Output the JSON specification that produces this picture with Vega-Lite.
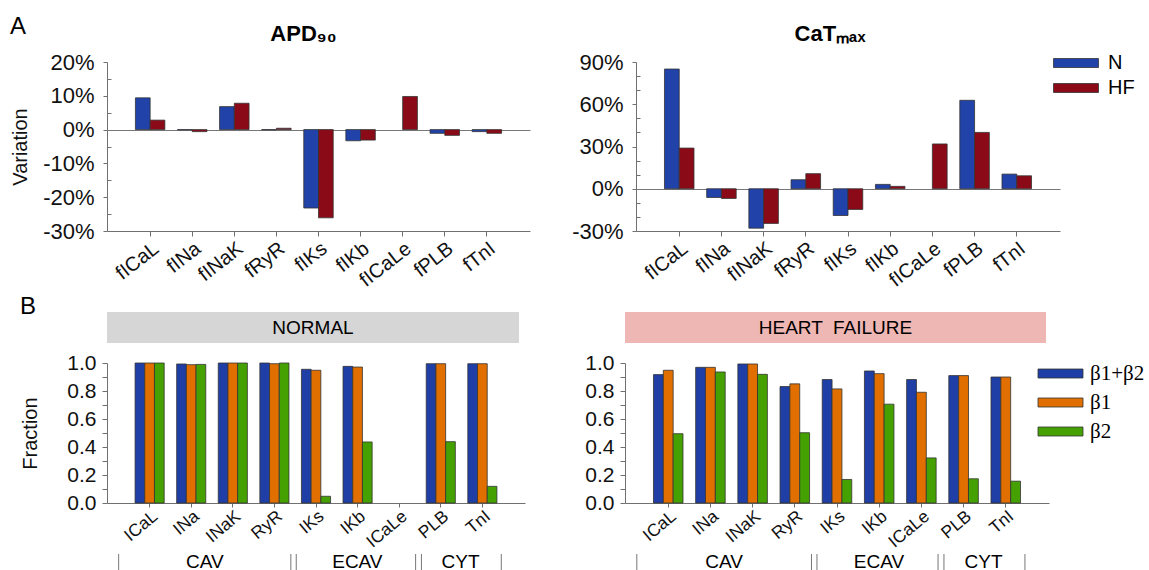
{
  "$schema": "https://vega.github.io/schema/vega-lite/v6.json",
  "padding": {"left": 10, "top": 15, "right": 0, "bottom": 0},
  "config": {
    "font": "Liberation Sans",
    "view": {"stroke": null},
    "axis": {"grid": false, "domainColor": "#707070", "tickColor": "#707070", "labelColor": "#111", "titleColor": "#111", "titleFontWeight": "normal", "labelOverlap": false, "labelFlush": false},
    "title": {"color": "#000"}
  },
  "datasets": {
    "apd": [
      {"p": "fICaL", "cond": "N", "v": 0.094}, {"p": "fICaL", "cond": "HF", "v": 0.028},
      {"p": "fINa", "cond": "N", "v": -0.001}, {"p": "fINa", "cond": "HF", "v": -0.006},
      {"p": "fINaK", "cond": "N", "v": 0.068}, {"p": "fINaK", "cond": "HF", "v": 0.078},
      {"p": "fRyR", "cond": "N", "v": -0.001}, {"p": "fRyR", "cond": "HF", "v": 0.004},
      {"p": "fIKs", "cond": "N", "v": -0.232}, {"p": "fIKs", "cond": "HF", "v": -0.261},
      {"p": "fIKb", "cond": "N", "v": -0.033}, {"p": "fIKb", "cond": "HF", "v": -0.031},
      {"p": "fICaLe", "cond": "HF", "v": 0.098},
      {"p": "fPLB", "cond": "N", "v": -0.011}, {"p": "fPLB", "cond": "HF", "v": -0.017},
      {"p": "fTnI", "cond": "N", "v": -0.006}, {"p": "fTnI", "cond": "HF", "v": -0.011}
    ],
    "cat": [
      {"p": "fICaL", "cond": "N", "v": 0.85}, {"p": "fICaL", "cond": "HF", "v": 0.289},
      {"p": "fINa", "cond": "N", "v": -0.062}, {"p": "fINa", "cond": "HF", "v": -0.069},
      {"p": "fINaK", "cond": "N", "v": -0.28}, {"p": "fINaK", "cond": "HF", "v": -0.246},
      {"p": "fRyR", "cond": "N", "v": 0.064}, {"p": "fRyR", "cond": "HF", "v": 0.107},
      {"p": "fIKs", "cond": "N", "v": -0.19}, {"p": "fIKs", "cond": "HF", "v": -0.147},
      {"p": "fIKb", "cond": "N", "v": 0.031}, {"p": "fIKb", "cond": "HF", "v": 0.017},
      {"p": "fICaLe", "cond": "HF", "v": 0.318},
      {"p": "fPLB", "cond": "N", "v": 0.628}, {"p": "fPLB", "cond": "HF", "v": 0.40},
      {"p": "fTnI", "cond": "N", "v": 0.104}, {"p": "fTnI", "cond": "HF", "v": 0.092}
    ],
    "frac": [
      {"s": "N", "ch": "ICaL", "b": "β1+β2", "v": 1.0}, {"s": "N", "ch": "ICaL", "b": "β1", "v": 1.0}, {"s": "N", "ch": "ICaL", "b": "β2", "v": 1.0},
      {"s": "N", "ch": "INa", "b": "β1+β2", "v": 0.993}, {"s": "N", "ch": "INa", "b": "β1", "v": 0.988}, {"s": "N", "ch": "INa", "b": "β2", "v": 0.99},
      {"s": "N", "ch": "INaK", "b": "β1+β2", "v": 1.0}, {"s": "N", "ch": "INaK", "b": "β1", "v": 1.0}, {"s": "N", "ch": "INaK", "b": "β2", "v": 1.0},
      {"s": "N", "ch": "RyR", "b": "β1+β2", "v": 1.0}, {"s": "N", "ch": "RyR", "b": "β1", "v": 0.995}, {"s": "N", "ch": "RyR", "b": "β2", "v": 1.0},
      {"s": "N", "ch": "IKs", "b": "β1+β2", "v": 0.955}, {"s": "N", "ch": "IKs", "b": "β1", "v": 0.948}, {"s": "N", "ch": "IKs", "b": "β2", "v": 0.048},
      {"s": "N", "ch": "IKb", "b": "β1+β2", "v": 0.976}, {"s": "N", "ch": "IKb", "b": "β1", "v": 0.971}, {"s": "N", "ch": "IKb", "b": "β2", "v": 0.436},
      {"s": "N", "ch": "PLB", "b": "β1+β2", "v": 0.995}, {"s": "N", "ch": "PLB", "b": "β1", "v": 0.995}, {"s": "N", "ch": "PLB", "b": "β2", "v": 0.438},
      {"s": "N", "ch": "TnI", "b": "β1+β2", "v": 0.995}, {"s": "N", "ch": "TnI", "b": "β1", "v": 0.995}, {"s": "N", "ch": "TnI", "b": "β2", "v": 0.119},
      {"s": "HF", "ch": "ICaL", "b": "β1+β2", "v": 0.917}, {"s": "HF", "ch": "ICaL", "b": "β1", "v": 0.948}, {"s": "HF", "ch": "ICaL", "b": "β2", "v": 0.495},
      {"s": "HF", "ch": "INa", "b": "β1+β2", "v": 0.969}, {"s": "HF", "ch": "INa", "b": "β1", "v": 0.969}, {"s": "HF", "ch": "INa", "b": "β2", "v": 0.936},
      {"s": "HF", "ch": "INaK", "b": "β1+β2", "v": 0.993}, {"s": "HF", "ch": "INaK", "b": "β1", "v": 0.993}, {"s": "HF", "ch": "INaK", "b": "β2", "v": 0.919},
      {"s": "HF", "ch": "RyR", "b": "β1+β2", "v": 0.832}, {"s": "HF", "ch": "RyR", "b": "β1", "v": 0.851}, {"s": "HF", "ch": "RyR", "b": "β2", "v": 0.502},
      {"s": "HF", "ch": "IKs", "b": "β1+β2", "v": 0.882}, {"s": "HF", "ch": "IKs", "b": "β1", "v": 0.815}, {"s": "HF", "ch": "IKs", "b": "β2", "v": 0.168},
      {"s": "HF", "ch": "IKb", "b": "β1+β2", "v": 0.943}, {"s": "HF", "ch": "IKb", "b": "β1", "v": 0.924}, {"s": "HF", "ch": "IKb", "b": "β2", "v": 0.706},
      {"s": "HF", "ch": "ICaLe", "b": "β1+β2", "v": 0.882}, {"s": "HF", "ch": "ICaLe", "b": "β1", "v": 0.791}, {"s": "HF", "ch": "ICaLe", "b": "β2", "v": 0.322},
      {"s": "HF", "ch": "PLB", "b": "β1+β2", "v": 0.91}, {"s": "HF", "ch": "PLB", "b": "β1", "v": 0.91}, {"s": "HF", "ch": "PLB", "b": "β2", "v": 0.173},
      {"s": "HF", "ch": "TnI", "b": "β1+β2", "v": 0.9}, {"s": "HF", "ch": "TnI", "b": "β1", "v": 0.9}, {"s": "HF", "ch": "TnI", "b": "β2", "v": 0.156}
    ],
    "headers": [
      {"s": "N", "label": "NORMAL"},
      {"s": "HF", "label": "HEART \u00a0FAILURE"}
    ],
    "groups": [
      {"grp": "CAV", "from": 0.28, "to": 4.42, "mid": 2.35},
      {"grp": "ECAV", "from": 4.55, "to": 7.42, "mid": 6.02},
      {"grp": "CYT", "from": 7.56, "to": 9.48, "mid": 8.5}
    ]
  },
  "resolve": {"scale": {"color": "independent", "xOffset": "independent"}, "legend": {"color": "independent"}},
  "spacing": 4,
  "vconcat": [
    {
      "title": {"text": "A", "anchor": "start", "fontSize": 24, "fontWeight": "normal", "offset": -16},
      "resolve": {"scale": {"color": "independent", "xOffset": "independent"}, "legend": {"color": "independent"}},
      "spacing": 41,
      "hconcat": [
        {
          "width": 423, "height": 169,
          "title": {"text": "APD₉₀", "fontSize": 22, "fontWeight": "bold", "offset": 5, "dx": -15},
          "data": {"name": "apd"},
          "mark": {"type": "bar", "stroke": "#333", "strokeWidth": 0.8},
          "encoding": {
            "x": {"field": "p", "type": "nominal", "sort": null,
              "scale": {"domain": ["fICaL","fINa","fINaK","fRyR","fIKs","fIKb","fICaLe","fPLB","fTnI"], "paddingInner": 0.3, "paddingOuter": 0.675},
              "axis": {"title": null, "labelAngle": -38, "labelFontSize": 20, "tickSize": 5, "labelPadding": 2}},
            "xOffset": {"field": "cond", "type": "nominal", "scale": {"domain": ["N","HF"]}},
            "y": {"field": "v", "type": "quantitative", "title": "Variation",
              "scale": {"domain": [-0.3, 0.2], "nice": false},
              "axis": {"values": [-0.3,-0.25,-0.2,-0.15,-0.1,-0.05,0,0.05,0.1,0.15,0.2], "labelOverlap": false,
                "labelExpr": "abs(round(datum.value*100)) % 10 == 0 ? (datum.value < -0.001 ? '-' : '') + abs(round(datum.value*100)) + '%' : ''",
                "grid": true, "gridColor": "#777",
                "gridOpacity": {"condition": {"test": "abs(datum.value) < 0.0001", "value": 1}, "value": 0},
                "tickSize": {"condition": {"test": "abs(round(datum.value*100)) % 10 == 0", "value": 4}, "value": -4},
                "labelFontSize": 22, "titleFontSize": 20, "labelPadding": 9, "minExtent": 62, "maxExtent": 62, "titlePadding": 15}},
            "color": {"field": "cond", "type": "nominal", "scale": {"domain": ["N","HF"], "range": ["#2142a8","#8b0a18"]}, "legend": null}
          }
        },
        {
          "width": 424, "height": 169,
          "title": {"text": "CaTₘₐₓ", "fontSize": 22, "fontWeight": "bold", "offset": 5, "dx": -18},
          "data": {"name": "cat"},
          "mark": {"type": "bar", "stroke": "#333", "strokeWidth": 0.8},
          "encoding": {
            "x": {"field": "p", "type": "nominal", "sort": null,
              "scale": {"domain": ["fICaL","fINa","fINaK","fRyR","fIKs","fIKb","fICaLe","fPLB","fTnI"], "paddingInner": 0.3, "paddingOuter": 0.675},
              "axis": {"title": null, "labelAngle": -38, "labelFontSize": 20, "tickSize": 5, "labelPadding": 2}},
            "xOffset": {"field": "cond", "type": "nominal", "scale": {"domain": ["N","HF"]}},
            "y": {"field": "v", "type": "quantitative", "title": null,
              "scale": {"domain": [-0.3, 0.9], "nice": false},
              "axis": {"values": [-0.3,-0.2,-0.1,0,0.1,0.2,0.3,0.4,0.5,0.6,0.7,0.8,0.9], "labelOverlap": false,
                "labelExpr": "abs(round(datum.value*100)) % 30 == 0 ? (datum.value < -0.001 ? '-' : '') + abs(round(datum.value*100)) + '%' : ''",
                "grid": true, "gridColor": "#777",
                "gridOpacity": {"condition": {"test": "abs(datum.value) < 0.0001", "value": 1}, "value": 0},
                "tickSize": {"condition": {"test": "abs(round(datum.value*100)) % 30 == 0", "value": 4}, "value": -4},
                "labelFontSize": 22, "labelPadding": 9, "minExtent": 58, "maxExtent": 58}},
            "color": {"field": "cond", "type": "nominal", "scale": {"domain": ["N","HF"], "range": ["#2142a8","#8b0a18"]},
              "legend": {"title": null, "orient": "none", "legendX": 430, "legendY": -9, "symbolType": "M-2.5,-0.5H2.5V0.5H-2.5Z", "symbolSize": 324,
                "symbolStrokeColor": "#333", "symbolStrokeWidth": 0.8, "symbolOpacity": 1, "labelFontSize": 20, "labelOffset": 22, "rowPadding": 5}}
          }
        }
      ]
    },
    {
      "title": {"text": "B", "anchor": "start", "fontSize": 24, "fontWeight": "normal", "offset": -7},
      "resolve": {"scale": {"color": "independent", "xOffset": "independent"}, "legend": {"color": "independent"}},
      "spacing": 58,
      "hconcat": [
        {
          "spacing": 9,
          "resolve": {"scale": {"color": "independent", "xOffset": "independent"}, "legend": {"color": "independent"}},
          "vconcat": [
            {
              "width": 412, "height": 31,
              "view": {"fill": "#d6d6d6", "stroke": null},
              "data": {"name": "headers"},
              "transform": [{"filter": "datum.s == 'N'"}],
              "mark": {"type": "text", "fontSize": 19},
              "encoding": {"text": {"field": "label"}}
            },
            {
              "spacing": 2,
              "resolve": {"scale": {"color": "independent", "xOffset": "independent"}, "legend": {"color": "independent"}},
              "vconcat": [
                {
                  "width": 418, "height": 140,
                  "data": {"name": "frac"},
                  "transform": [{"filter": "datum.s == 'N'"}],
                  "mark": {"type": "bar", "stroke": "#333", "strokeWidth": 0.8},
                  "encoding": {
                    "x": {"field": "ch", "type": "nominal", "sort": null,
                      "scale": {"domain": ["ICaL","INa","INaK","RyR","IKs","IKb","ICaLe","PLB","TnI"], "paddingInner": 0.3, "paddingOuter": 0.675},
                      "axis": {"title": null, "labelAngle": -40, "labelFontSize": 17.5, "tickSize": 4, "labelPadding": 0}},
                    "xOffset": {"field": "b", "type": "nominal", "scale": {"domain": ["β1+β2","β1","β2"]}},
                    "y": {"field": "v", "type": "quantitative", "title": "Fraction",
                      "scale": {"domain": [0, 1], "nice": false},
                      "axis": {"values": [0,0.1,0.2,0.3,0.4,0.5,0.6,0.7,0.8,0.9,1], "labelOverlap": false,
                        "labelExpr": "round(datum.value*10) % 2 == 0 ? format(datum.value, '.1f') : ''",
                        "labelFontSize": 21, "titleFontSize": 20, "tickSize": 5, "labelPadding": 6, "minExtent": 40, "maxExtent": 40, "titlePadding": 27}},
                    "color": {"field": "b", "type": "nominal", "scale": {"domain": ["β1+β2","β1","β2"], "range": ["#1f3fa6","#e06f00","#45a102"]}, "legend": null}
                  }
                },
                {
                  "width": 418, "height": 20,
                  "data": {"name": "groups"},
                  "layer": [
                    {"mark": {"type": "rule", "color": "#777"}, "encoding": {"x": {"field": "from", "type": "quantitative", "scale": {"domain": [0, 10.05], "nice": false, "zero": false}, "axis": null}}},
                    {"mark": {"type": "rule", "color": "#777"}, "encoding": {"x": {"field": "to", "type": "quantitative", "axis": null}}},
                    {"mark": {"type": "text", "fontSize": 19, "dy": -2}, "encoding": {"x": {"field": "mid", "type": "quantitative", "axis": null}, "text": {"field": "grp"}}}
                  ]
                }
              ]
            }
          ]
        },
        {
          "spacing": 9,
          "resolve": {"scale": {"color": "independent", "xOffset": "independent"}, "legend": {"color": "independent"}},
          "vconcat": [
            {
              "width": 421, "height": 31,
              "view": {"fill": "#efb7b4", "stroke": null},
              "data": {"name": "headers"},
              "transform": [{"filter": "datum.s == 'HF'"}],
              "mark": {"type": "text", "fontSize": 19},
              "encoding": {"text": {"field": "label"}}
            },
            {
              "spacing": 2,
              "resolve": {"scale": {"color": "independent", "xOffset": "independent"}, "legend": {"color": "independent"}},
              "vconcat": [
                {
                  "width": 424, "height": 140,
                  "data": {"name": "frac"},
                  "transform": [{"filter": "datum.s == 'HF'"}],
                  "mark": {"type": "bar", "stroke": "#333", "strokeWidth": 0.8},
                  "encoding": {
                    "x": {"field": "ch", "type": "nominal", "sort": null,
                      "scale": {"domain": ["ICaL","INa","INaK","RyR","IKs","IKb","ICaLe","PLB","TnI"], "paddingInner": 0.3, "paddingOuter": 0.675},
                      "axis": {"title": null, "labelAngle": -40, "labelFontSize": 17.5, "tickSize": 4, "labelPadding": 0}},
                    "xOffset": {"field": "b", "type": "nominal", "scale": {"domain": ["β1+β2","β1","β2"]}},
                    "y": {"field": "v", "type": "quantitative", "title": null,
                      "scale": {"domain": [0, 1], "nice": false},
                      "axis": {"values": [0,0.1,0.2,0.3,0.4,0.5,0.6,0.7,0.8,0.9,1], "labelOverlap": false,
                        "labelExpr": "round(datum.value*10) % 2 == 0 ? format(datum.value, '.1f') : ''",
                        "labelFontSize": 21, "tickSize": 5, "labelPadding": 6, "minExtent": 42, "maxExtent": 42}},
                    "color": {"field": "b", "type": "nominal", "scale": {"domain": ["β1+β2","β1","β2"], "range": ["#1f3fa6","#e06f00","#45a102"]},
                      "legend": {"title": null, "orient": "right", "offset": 1, "symbolType": "M-2.5,-0.5H2.5V0.5H-2.5Z", "symbolSize": 324,
                        "symbolStrokeColor": "#333", "symbolStrokeWidth": 0.8, "symbolOpacity": 1, "labelFont": "Liberation Serif", "labelFontSize": 21, "labelOffset": 19, "rowPadding": 7}}
                  }
                },
                {
                  "width": 424, "height": 20,
                  "data": {"name": "groups"},
                  "layer": [
                    {"mark": {"type": "rule", "color": "#777"}, "encoding": {"x": {"field": "from", "type": "quantitative", "scale": {"domain": [0, 10.05], "nice": false, "zero": false}, "axis": null}}},
                    {"mark": {"type": "rule", "color": "#777"}, "encoding": {"x": {"field": "to", "type": "quantitative", "axis": null}}},
                    {"mark": {"type": "text", "fontSize": 19, "dy": -2}, "encoding": {"x": {"field": "mid", "type": "quantitative", "axis": null}, "text": {"field": "grp"}}}
                  ]
                }
              ]
            }
          ]
        }
      ]
    }
  ]
}
